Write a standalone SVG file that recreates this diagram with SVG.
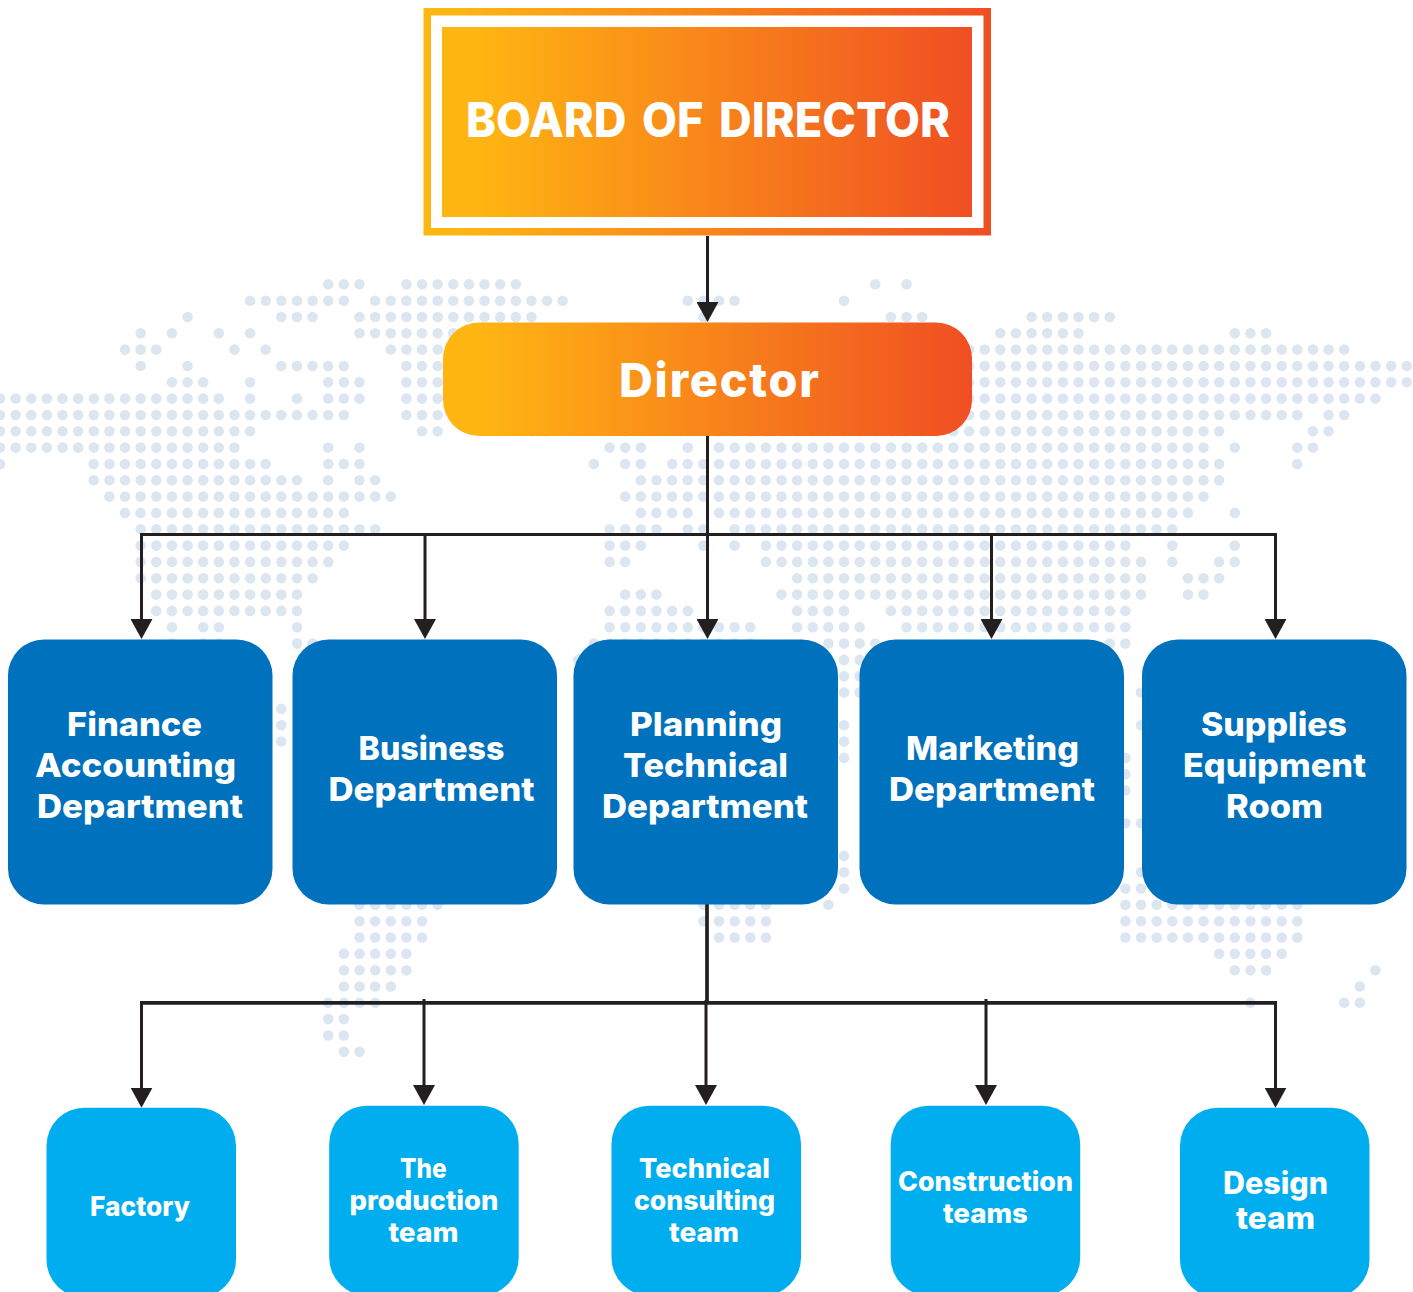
<svg xmlns="http://www.w3.org/2000/svg" width="1413" height="1292" viewBox="0 0 1413 1292">
<style>
text{font-family:Inter,"Liberation Sans",sans-serif;font-weight:800;fill:#fff}
.b{font-size:33px}
.s{font-size:27px}
.d{font-size:31px}
.h{font-size:48px;word-spacing:6px}
.h2{font-size:46.8px}
.dept{fill:#0071BC}
.team{fill:#00AEEF}
.ln{fill:none;stroke:#231F20;stroke-width:3}
.bus{stroke-width:3.7}
</style>
<defs>
<linearGradient id="g"><stop offset="0.06" stop-color="#FFB612"/><stop offset="1" stop-color="#F04E23"/></linearGradient>
<marker id="a" markerUnits="userSpaceOnUse" markerWidth="20" markerHeight="22" viewBox="0 0 20 22" refX="10" refY="11" orient="auto"><path d="M0 0L20 11L0 22z" fill="#231F20"/></marker>
</defs>
<path id="map" fill="none" stroke="#DCE6F1" stroke-width="10.6" stroke-linecap="round" stroke-dasharray="0 15.63" d="
M328.2 284.3H360.5M406.4 284.3H516.8M875.3 284.3h1M906.5 284.3h1
M250.1 300.7H344.9M375.1 300.7H563.7M687.7 300.7H735.6M844 300.7h1
M187.6 317h1M281.3 317H313.6M359.5 317H532.4M703.4 317h1M890.9 317H923.2M1031.6 317H1110.7
M140.7 333.3h1M171.9 333.3h1M218.8 333.3h1M250.1 333.3h1M359.5 333.3H532.4M1000.3 333.3H1079.5M1234.8 333.3H1267
M125 349.6H157.3M234.5 349.6h1M265.7 349.6h1M390.8 349.6H438.6M969.1 349.6H1345.2
M140.7 366h1M187.6 366h1M281.3 366H344.9M406.4 366H438.6M969.1 366H1407.7
M171.9 382.3H204.2M250.1 382.3h1M328.2 382.3H360.5M406.4 382.3H438.6M969.1 382.3H1407.7
M0 398.6H219.8M250.1 398.6h1M297 398.6h1M328.2 398.6H360.5M406.4 398.6H438.6M969.1 398.6H1376.4
M0 415H344.9M406.4 415H438.6M969.1 415H1298.3M1328.6 415H1345.2
M0 431.3H251.1M422 431.3H438.6M531.4 431.3H548.1M625.2 431.3h1M687.7 431.3h1M719 431.3H1220.1M1312.9 431.3H1329.6
M0 447.6H235.5M328.2 447.6h1M359.5 447.6h1M609.6 447.6H641.8M687.7 447.6h1M719 447.6H1204.5M1234.8 447.6h1M1297.3 447.6H1313.9
M0 464h1M93.8 464H266.7M328.2 464H360.5M593.9 464h1M625.2 464H641.8M672.1 464H1220.1M1297.3 464h1
M93.8 480.3H298M328.2 480.3h1M359.5 480.3H376.1M640.8 480.3H1220.1
M109.4 496.6H391.8M625.2 496.6H1204.5
M125 512.9H344.9M640.8 512.9H688.7M719 512.9H1188.9M1234.8 512.9h1
M140.7 529.3H376.1M609.6 529.3H657.5M687.7 529.3H704.4M734.6 529.3H1173.3
M140.7 545.6H344.9M609.6 545.6H641.8M703.4 545.6h1M734.6 545.6h1M765.9 545.6H1126.4M1172.3 545.6h1M1234.8 545.6h1
M140.7 561.9H329.2M609.6 561.9H626.2M765.9 561.9H1142M1172.3 561.9h1M1219.1 561.9H1235.8
M140.7 578.3H313.6M797.1 578.3H1142M1187.9 578.3H1220.1
M156.3 594.6H298M625.2 594.6H657.5M781.5 594.6H1142M1187.9 594.6H1204.5
M156.3 610.9H298M609.6 610.9H688.7M797.1 610.9H844M890.9 610.9H1126.4
M171.9 627.2h1M203.2 627.2H219.8M297 627.2h1M609.6 627.2H751.2M797.1 627.2H860.7M906.5 627.2H1126.4
M171.9 643.6h1M203.2 643.6H219.8M297 643.6H313.6M593.9 643.6H751.2M828.4 643.6H876.3M1109.7 643.6H1126.4
M578.3 659.9h1M844 659.9H860.7
M844 676.2H860.7
M844 692.6H860.7M1141 692.6h1
M281.3 708.9h1
M281.3 725.2h1M844 725.2h1M1141 725.2h1
M281.3 741.5h1M844 741.5h1
M844 757.9h1M1125.4 757.9h1
M1125.4 774.2h1
M1125.4 790.5h1
M1125.4 823.2H1142
M844 855.9h1
M844 872.2h1M1141 872.2h1
M844 888.5h1M1125.4 888.5H1142
M359.5 904.8H438.6M703.4 904.8H766.9M828.4 904.8h1M1125.4 904.8H1298.3
M359.5 921.2H423M703.4 921.2H766.9M1125.4 921.2H1298.3
M359.5 937.5H423M719 937.5H766.9M1125.4 937.5H1298.3
M343.9 953.8H407.4M1219.1 953.8H1282.7
M343.9 970.2H407.4M1234.8 970.2H1267M1375.4 970.2h1
M343.9 986.5H391.8M1359.8 986.5h1
M328.2 1002.8H376.1M1250.4 1002.8h1M1344.2 1002.8H1360.8
M328.2 1019.1H344.9
M328.2 1035.5H344.9
M343.9 1051.8H360.5"/>
<g id="connectors">
<path class="ln" marker-end="url(#a)" d="M707.5 236V312"/>
<path class="ln" marker-end="url(#a)" d="M707.5 436V629"/>
<path class="ln" marker-end="url(#a)" d="M425 534.5V629"/>
<path class="ln" marker-end="url(#a)" d="M991.5 534.5V629"/>
<path class="ln" marker-end="url(#a)" d="M141.5 534.5V629"/>
<path class="ln" marker-end="url(#a)" d="M1275.5 534.5V629"/>
<path class="ln" d="M140 534.5H1277"/>
<path class="ln bus" d="M707 904V1002"/>
<path class="ln bus" d="M140 1002.8H1277"/>
<path class="ln" marker-end="url(#a)" d="M141.5 1002.8V1097.7"/>
<path class="ln" marker-end="url(#a)" d="M424 999V1095"/>
<path class="ln" marker-end="url(#a)" d="M706 1000V1095"/>
<path class="ln" marker-end="url(#a)" d="M986 999V1095"/>
<path class="ln" marker-end="url(#a)" d="M1275.5 1002.8V1097.7"/>
</g>
<g id="board"><rect x="423.5" y="8" width="567.5" height="227.5" fill="url(#g)"/><rect x="431" y="15.5" width="552.5" height="212.5" fill="#fff"/><rect x="442" y="27" width="530" height="190" fill="url(#g)"/><text class="h" x="466" y="137" textLength="484" lengthAdjust="spacingAndGlyphs">BOARD OF DIRECTOR</text></g>
<g id="director"><rect x="443" y="322.5" width="529" height="113.5" rx="36" fill="url(#g)"/><text class="h2" x="619" y="397.3" textLength="200" lengthAdjust="spacing">Director</text></g>
<g id="finance"><rect class="dept" x="8" y="639.5" width="264.5" height="265" rx="36"/><text class="b" x="67" y="735.5" textLength="135" lengthAdjust="spacingAndGlyphs">Finance</text><text class="b" x="35" y="776.5" textLength="201" lengthAdjust="spacingAndGlyphs">Accounting</text><text class="b" x="37" y="817.5" textLength="206" lengthAdjust="spacingAndGlyphs">Department</text></g>
<g id="business"><rect class="dept" x="292.5" y="639.5" width="264.5" height="265" rx="36"/><text class="b" x="358.5" y="759.5" textLength="146" lengthAdjust="spacingAndGlyphs">Business</text><text class="b" x="328.5" y="800.5" textLength="206" lengthAdjust="spacingAndGlyphs">Department</text></g>
<g id="planning"><rect class="dept" x="573.5" y="639.5" width="264.5" height="265" rx="36"/><text class="b" x="630" y="735.5" textLength="152" lengthAdjust="spacingAndGlyphs">Planning</text><text class="b" x="623" y="776.5" textLength="165" lengthAdjust="spacingAndGlyphs">Technical</text><text class="b" x="602" y="817.5" textLength="206" lengthAdjust="spacingAndGlyphs">Department</text></g>
<g id="marketing"><rect class="dept" x="859.5" y="639.5" width="264.5" height="265" rx="36"/><text class="b" x="906" y="759.5" textLength="173" lengthAdjust="spacingAndGlyphs">Marketing</text><text class="b" x="889" y="800.5" textLength="206" lengthAdjust="spacingAndGlyphs">Department</text></g>
<g id="supplies"><rect class="dept" x="1142" y="639.5" width="264.5" height="265" rx="36"/><text class="b" x="1201" y="735.5" textLength="146" lengthAdjust="spacingAndGlyphs">Supplies</text><text class="b" x="1183" y="776.5" textLength="183" lengthAdjust="spacingAndGlyphs">Equipment</text><text class="b" x="1226" y="817.5" textLength="97" lengthAdjust="spacingAndGlyphs">Room</text></g>
<g id="factory"><rect class="team" x="46.5" y="1107.7" width="189.5" height="190" rx="38"/><text class="s" x="90" y="1216" textLength="100" lengthAdjust="spacingAndGlyphs">Factory</text></g>
<g id="production"><rect class="team" x="329.2" y="1105.7" width="189.5" height="190" rx="38"/><text class="s" x="400" y="1177.7" textLength="46.6" lengthAdjust="spacingAndGlyphs">The</text><text class="s" x="349.5" y="1210" textLength="149" lengthAdjust="spacingAndGlyphs">production</text><text class="s" x="388.4" y="1241.7" textLength="70" lengthAdjust="spacingAndGlyphs">team</text></g>
<g id="consulting"><rect class="team" x="611.5" y="1105.7" width="189.5" height="190" rx="38"/><text class="s" x="639" y="1177.7" textLength="131" lengthAdjust="spacingAndGlyphs">Technical</text><text class="s" x="634" y="1210" textLength="141" lengthAdjust="spacingAndGlyphs">consulting</text><text class="s" x="669" y="1241.7" textLength="70" lengthAdjust="spacingAndGlyphs">team</text></g>
<g id="construction"><rect class="team" x="890.7" y="1105.7" width="189.5" height="190" rx="38"/><text class="s" x="898" y="1191" textLength="175" lengthAdjust="spacingAndGlyphs">Construction</text><text class="s" x="943" y="1223" textLength="85" lengthAdjust="spacingAndGlyphs">teams</text></g>
<g id="design"><rect class="team" x="1180" y="1107.7" width="189.5" height="190" rx="38"/><text class="d" x="1223" y="1194" textLength="105" lengthAdjust="spacingAndGlyphs">Design</text><text class="d" x="1236" y="1229" textLength="79" lengthAdjust="spacingAndGlyphs">team</text></g>
</svg>
